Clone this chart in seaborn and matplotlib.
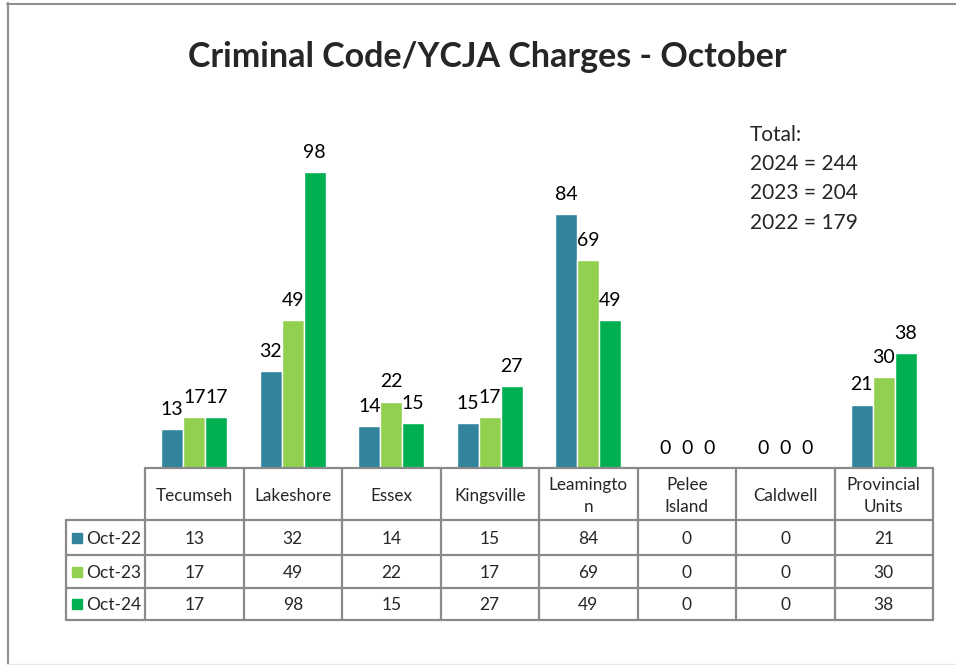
import matplotlib
matplotlib.use("Agg")
import matplotlib.pyplot as plt
import seaborn as sns
import pandas as pd
from matplotlib.patches import Rectangle

# data
stations = ["Tecumseh", "Lakeshore", "Essex", "Kingsville", "Leamington",
            "Pelee Island", "Caldwell", "Provincial Units"]
header_labels = ["Tecumseh", "Lakeshore", "Essex", "Kingsville", "Leamingto\nn",
                 "Pelee\nIsland", "Caldwell", "Provincial\nUnits"]
series_names = ["Oct-22", "Oct-23", "Oct-24"]
oct_22 = [13, 32, 14, 15, 84, 0, 0, 21]
oct_23 = [17, 49, 22, 17, 69, 0, 0, 30]
oct_24 = [17, 98, 15, 27, 49, 0, 0, 38]
totals_text = ["Total:", "2024 = 244", "2023 = 204", "2022 = 179"]
colors = ["#31849B", "#92D050", "#00B050"]

sns.set_style("white")
plt.rcParams["font.family"] = ["Lato", "DejaVu Sans"]

W, H = 956, 665
fig = plt.figure(figsize=(W / 100, H / 100), dpi=100)


def fx(px):
    return px / W


def fy(py):
    return 1 - py / H


# long form frame for seaborn
rows = []
for name, vals in zip(series_names, [oct_22, oct_23, oct_24]):
    for st, v in zip(stations, vals):
        rows.append({"station": st, "series": name, "value": v})
df = pd.DataFrame(rows)

# plot area: x 145..933 px, baseline at y=468 px, 3.02 px per unit
x0, x1, base = 145, 933, 468
ymax = 120
top = base - ymax * 3.02
ax = fig.add_axes([fx(x0), fy(base), fx(x1) - fx(x0), (base - top) / H])
sns.barplot(data=df, x="station", y="value", hue="series", order=stations,
            hue_order=series_names, palette=colors, width=0.67, gap=0,
            saturation=1, ax=ax, legend=False, errorbar=None)
ax.set_ylim(0, ymax)
ax.set_xlim(-0.5, len(stations) - 0.5)
ax.set_axis_off()
for cont in ax.containers:
    ax.bar_label(cont, padding=8, fontsize=14, color="#000000")

# title
fig.text(fx(487), fy(57), "Criminal Code/YCJA Charges - October",
         ha="center", va="center", fontsize=24.5, fontweight="bold")

# totals block
for i, t in enumerate(totals_text):
    fig.text(fx(750), fy(135 + i * 29.2), t, ha="left", va="center", fontsize=15)

# data table underneath
cw = (x1 - x0) / len(stations)
tl = 66
tax = fig.add_axes([fx(tl), fy(620), fx(x1) - fx(tl), (620 - base) / H])
tax.set_xlim(-0.5 - (x0 - tl) / cw, len(stations) - 0.5)
tax.set_ylim(620, base)
tax.set_axis_off()
row_edges = [base, 520, 555, 588, 620]
lc = "#8a8a8a"
lw = 1.6
# horizontal lines
tax.plot([-0.5, len(stations) - 0.5], [base, base], color=lc, lw=lw, clip_on=False)
for ye in row_edges[1:]:
    tax.plot([tax.get_xlim()[0], len(stations) - 0.5], [ye, ye], color=lc, lw=lw, clip_on=False)
# vertical lines
for i in range(len(stations) + 1):
    tax.plot([i - 0.5, i - 0.5], [base, 620], color=lc, lw=lw, clip_on=False)
tax.plot([tax.get_xlim()[0]] * 2, [520, 620], color=lc, lw=lw, clip_on=False)

for i, lab in enumerate(header_labels):
    tax.text(i, (base + 520) / 2 + 2, lab, ha="center", va="center",
             fontsize=12.3, linespacing=1.5)

lab_x = tax.get_xlim()[0]
for r, (name, vals, c) in enumerate(zip(series_names, [oct_22, oct_23, oct_24], colors)):
    yc = (row_edges[r + 1] + row_edges[r + 2]) / 2
    sq = Rectangle((lab_x + 6 / cw, yc - 5), 10 / cw, 10, color=c, clip_on=False)
    tax.add_patch(sq)
    tax.text(lab_x + 20 / cw, yc + 1, name, ha="left", va="center", fontsize=12.5)
    for i, v in enumerate(vals):
        tax.text(i, yc + 1, str(v), ha="center", va="center", fontsize=12.5)

# outer chart border (left/top visible, right cropped)
fig.add_artist(plt.Line2D([fx(7.5), fx(7.5)], [fy(3), fy(665)], color="#8f8f8f", lw=1.5))
fig.add_artist(plt.Line2D([fx(7), fx(956)], [fy(3.5), fy(3.5)], color="#8f8f8f", lw=1.5))
fig.add_artist(plt.Line2D([fx(7), fx(956)], [fy(663.5), fy(663.5)], color="#e6e6e6", lw=1))

fig.savefig("out.png", dpi=100)
